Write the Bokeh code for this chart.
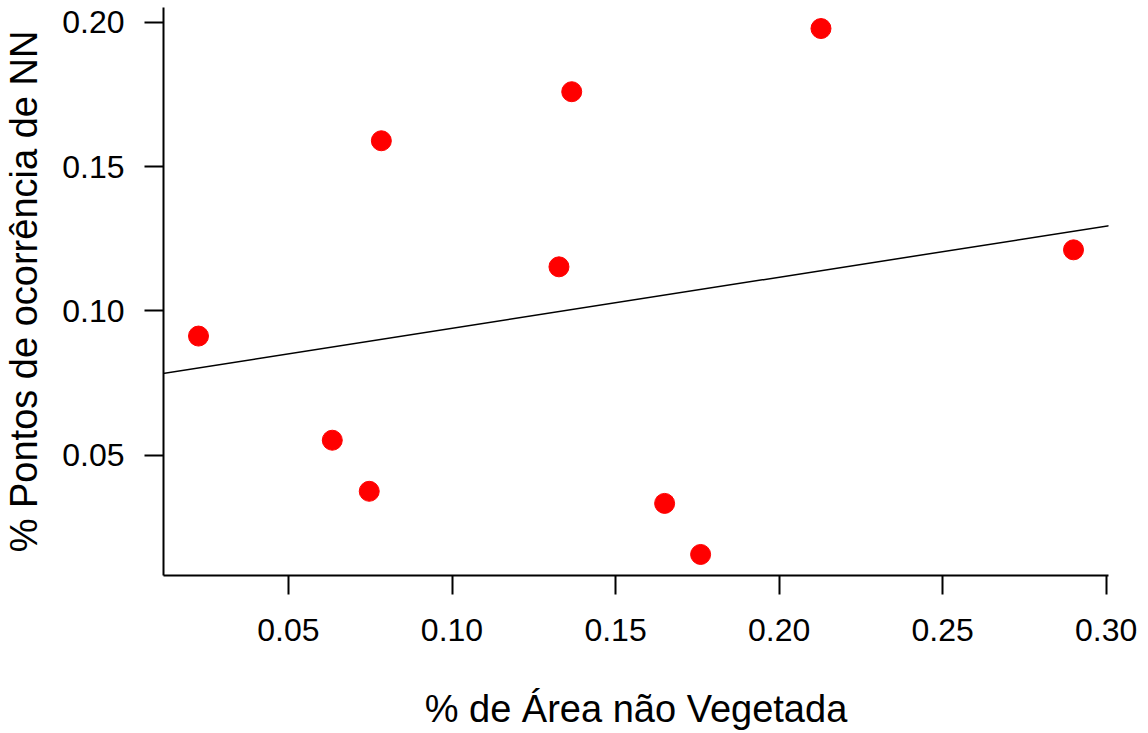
import numpy as np
from bokeh.plotting import figure
from bokeh.models import Range1d, FixedTicker, Slope, ColumnDataSource
from bokeh.embed import file_html
from bokeh.resources import INLINE

# Data
area_nao_vegetada = [0.0225, 0.0634, 0.0747, 0.0784, 0.1327, 0.1366, 0.1650, 0.1760, 0.2128, 0.2900]
pontos_nn = [0.0913, 0.0552, 0.0375, 0.1590, 0.1153, 0.1760, 0.0333, 0.0156, 0.1979, 0.1212]

x_ticks = [0.05, 0.10, 0.15, 0.20, 0.25, 0.30]
x_tick_labels = ["0.05", "0.10", "0.15", "0.20", "0.25", "0.30"]
y_ticks = [0.05, 0.10, 0.15, 0.20]
y_tick_labels = ["0.05", "0.10", "0.15", "0.20"]

x_title = "% de Área não Vegetada"
y_title = "% Pontos de ocorrência de NN"

# R-style range: 4% padding
xr = max(area_nao_vegetada) - min(area_nao_vegetada)
yr = max(pontos_nn) - min(pontos_nn)
x_range = Range1d(min(area_nao_vegetada) - 0.04 * xr, max(area_nao_vegetada) + 0.04 * xr)
y_range = Range1d(min(pontos_nn) - 0.04 * yr, max(pontos_nn) + 0.04 * yr)

FONT = "Liberation Sans"

p = figure(width=1148, height=733, x_range=x_range, y_range=y_range,
           output_backend="svg", toolbar_location=None,
           min_border_left=162, min_border_right=40, min_border_top=7, min_border_bottom=158)
p.outline_line_color = None
p.xgrid.visible = False
p.ygrid.visible = False
p.background_fill_color = "white"
p.border_fill_color = "white"

src = ColumnDataSource(dict(x=area_nao_vegetada, y=pontos_nn))

# Linear regression line (abline)
slope, intercept = np.polyfit(area_nao_vegetada, pontos_nn, 1)
p.add_layout(Slope(gradient=float(slope), y_intercept=float(intercept),
                   line_color="black", line_width=1.5))

p.scatter("x", "y", source=src, size=20, fill_color="#FF0000", line_color="#FF0000")

for ax, ticks, labels, title in ((p.xaxis[0], x_ticks, x_tick_labels, x_title),
                                 (p.yaxis[0], y_ticks, y_tick_labels, y_title)):
    ax.ticker = FixedTicker(ticks=ticks)
    ax.major_label_overrides = {t: l for t, l in zip(ticks, labels)}
    ax.axis_label = title
    ax.axis_label_text_font = FONT
    ax.axis_label_text_font_size = "38px"
    ax.axis_label_text_font_style = "normal"
    ax.axis_label_text_color = "black"
    ax.major_label_text_font = FONT
    ax.major_label_text_font_size = "32px"
    ax.major_label_text_color = "black"
    ax.axis_line_width = 2
    ax.axis_line_color = "black"
    ax.major_tick_line_width = 2
    ax.major_tick_line_color = "black"
    ax.major_tick_out = 19
    ax.major_tick_in = 0
    ax.minor_tick_line_color = None

p.xaxis[0].major_label_standoff = 24
p.xaxis[0].axis_label_standoff = 44
p.yaxis[0].major_label_standoff = 20
p.yaxis[0].axis_label_standoff = 14
p.yaxis[0].major_label_orientation = "horizontal"

open("out.html", "w").write(file_html(p, INLINE))
